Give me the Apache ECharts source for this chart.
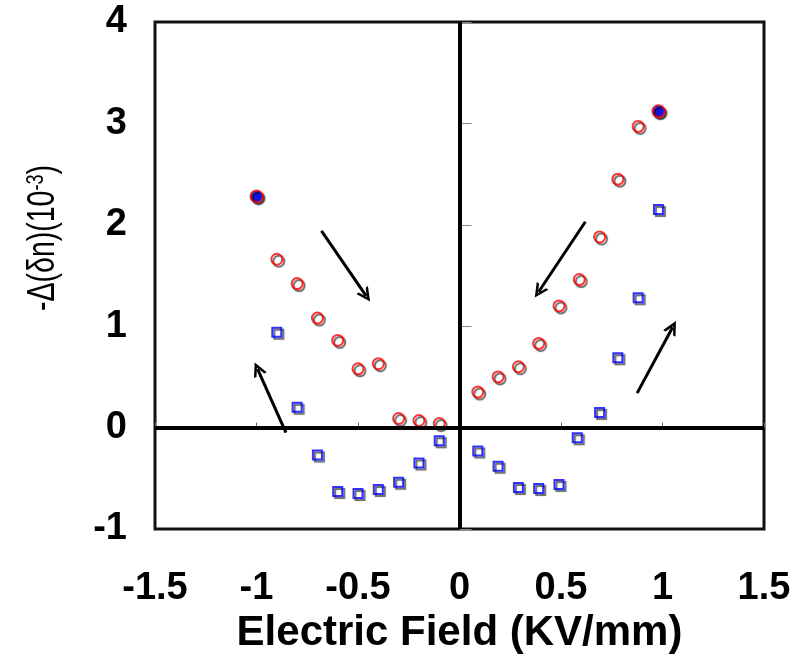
<!DOCTYPE html>
<html>
<head>
<meta charset="utf-8">
<script src="https://cdn.jsdelivr.net/npm/echarts@6/dist/echarts.min.js"></script>
<style>
  html, body { margin: 0; background: #fff; }
  #chart { width: 793px; height: 656px; }
</style>
</head>
<body>
<div id="chart"></div>
<script>
// field values (KV/mm) and -Δ(δn) (x10^-3)
const circleField = [-0.9, -0.8, -0.7, -0.6, -0.5, -0.4, -0.3, -0.2, -0.1,
  0.09, 0.19, 0.29, 0.39, 0.49, 0.59, 0.69, 0.78, 0.88];
const circleValue = [1.66, 1.42, 1.08, 0.86, 0.58, 0.63, 0.09, 0.07, 0.04,
  0.35, 0.50, 0.60, 0.83, 1.20, 1.46, 1.88, 2.45, 2.97];

const squareField = [-0.9, -0.8, -0.7, -0.6, -0.5, -0.4, -0.3, -0.2, -0.1,
  0.09, 0.19, 0.29, 0.39, 0.49, 0.58, 0.69, 0.78, 0.88, 0.98];
const squareValue = [0.94, 0.20, -0.27, -0.63, -0.65, -0.61, -0.54, -0.35, -0.13,
  -0.23, -0.38, -0.59, -0.60, -0.56, -0.10, 0.15, 0.69, 1.28, 2.15];

// turning points (filled markers)
const endField = [-1, 0.98];
const endValue = [2.28, 3.12];

// arrows: [fromX, fromY, toX, toY]
const arrows = [
  [-0.68, 1.94, -0.46, 1.30],
  [-0.855, -0.05, -0.995, 0.58],
  [0.62, 2.03, 0.39, 1.34],
  [0.875, 0.34, 1.05, 0.99]
];

const xTicks = { min: -1.5, max: 1.5, interval: 0.5 };
const yTicks = { min: -1, max: 4, interval: 1 };

const zip = (xs, ys) => xs.map((x, i) => [x, ys[i]]);

const markerShadow = {
  shadowColor: 'rgba(0, 0, 0, 0.75)',
  shadowBlur: 1,
  shadowOffsetX: 2,
  shadowOffsetY: 2
};

const labelFont = {
  color: '#000',
  fontFamily: 'Liberation Sans, Arial, sans-serif',
  fontWeight: 'bold',
  fontSize: 38
};

// open "V" arrow head, pointing up
const arrowHead = 'path://M0,10 L5,0 L10,10 L8,10 L5,4 L2,10 Z';

const chart = echarts.init(document.getElementById('chart'));

chart.setOption({
  animation: false,
  grid: {
    left: 155,
    right: 29,
    top: 22,
    bottom: 127,
    containLabel: false,
    outerBoundsMode: 'none',
    show: true,
    borderColor: '#111',
    borderWidth: 3,
    backgroundColor: '#fff'
  },
  xAxis: {
    type: 'value',
    min: xTicks.min,
    max: xTicks.max,
    interval: xTicks.interval,
    splitLine: { show: false },
    axisLine: { show: false },
    axisTick: { show: true, inside: true, length: 5, lineStyle: { color: '#666' } },
    axisLabel: Object.assign({ margin: 60, verticalAlign: 'middle' }, labelFont),
    name: 'Electric Field (KV/mm)',
    nameLocation: 'middle',
    nameGap: 104,
    nameTextStyle: {
      color: '#000',
      fontFamily: 'Liberation Sans, Arial, sans-serif',
      fontWeight: 'bold',
      fontSize: 42,
      verticalAlign: 'middle'
    }
  },
  yAxis: {
    type: 'value',
    min: yTicks.min,
    max: yTicks.max,
    interval: yTicks.interval,
    splitLine: { show: false },
    axisLine: { show: false },
    axisTick: { show: true, inside: true, length: 12, lineStyle: { color: '#888' } },
    axisLabel: Object.assign({ margin: 28 }, labelFont)
  },
  graphic: [
    {
      type: 'text',
      x: 44,
      y: 238,
      rotation: Math.PI / 2,
      scaleX: 0.75,
      style: {
        text: '-Δ(δn)(10{sup|-3})',
        fill: '#000',
        font: '38px "Liberation Sans", Arial, sans-serif',
        align: 'center',
        verticalAlign: 'middle',
        rich: {
          sup: {
            fontSize: 24,
            fontFamily: 'Liberation Sans, Arial, sans-serif',
            verticalAlign: 'top',
            padding: [0, 0, 16, 0]
          }
        }
      }
    }
  ],
  series: [
    {
      type: 'scatter',
      data: [],
      z: 1,
      markLine: {
        silent: true,
        symbol: 'none',
        label: { show: false },
        lineStyle: { color: '#000', width: 4, type: 'solid' },
        data: [{ xAxis: 0 }, { yAxis: 0 }]
      }
    },
    {
      type: 'lines',
      coordinateSystem: 'cartesian2d',
      z: 3,
      symbol: ['none', arrowHead],
      symbolSize: 14,
      lineStyle: { color: '#000', width: 3, opacity: 1 },
      data: arrows.map((a) => ({ coords: [[a[0], a[1]], [a[2], a[3]]] }))
    },
    {
      name: 'circles',
      type: 'scatter',
      z: 4,
      symbol: 'circle',
      symbolSize: 11,
      itemStyle: Object.assign({ color: 'rgba(255,255,255,0)', borderColor: '#ff0000', borderWidth: 2 }, markerShadow),
      data: zip(circleField, circleValue)
    },
    {
      name: 'squares',
      type: 'scatter',
      z: 4,
      symbol: 'rect',
      symbolSize: 9,
      itemStyle: Object.assign({ color: 'rgba(255,255,255,0)', borderColor: '#0000ff', borderWidth: 2 }, markerShadow),
      data: zip(squareField, squareValue)
    },
    {
      name: 'ends',
      type: 'scatter',
      z: 5,
      symbol: 'circle',
      symbolSize: 12,
      itemStyle: Object.assign({ color: '#0000ff', borderColor: '#ff0000', borderWidth: 2 }, markerShadow),
      data: zip(endField, endValue)
    }
  ]
});
</script>
</body>
</html>
